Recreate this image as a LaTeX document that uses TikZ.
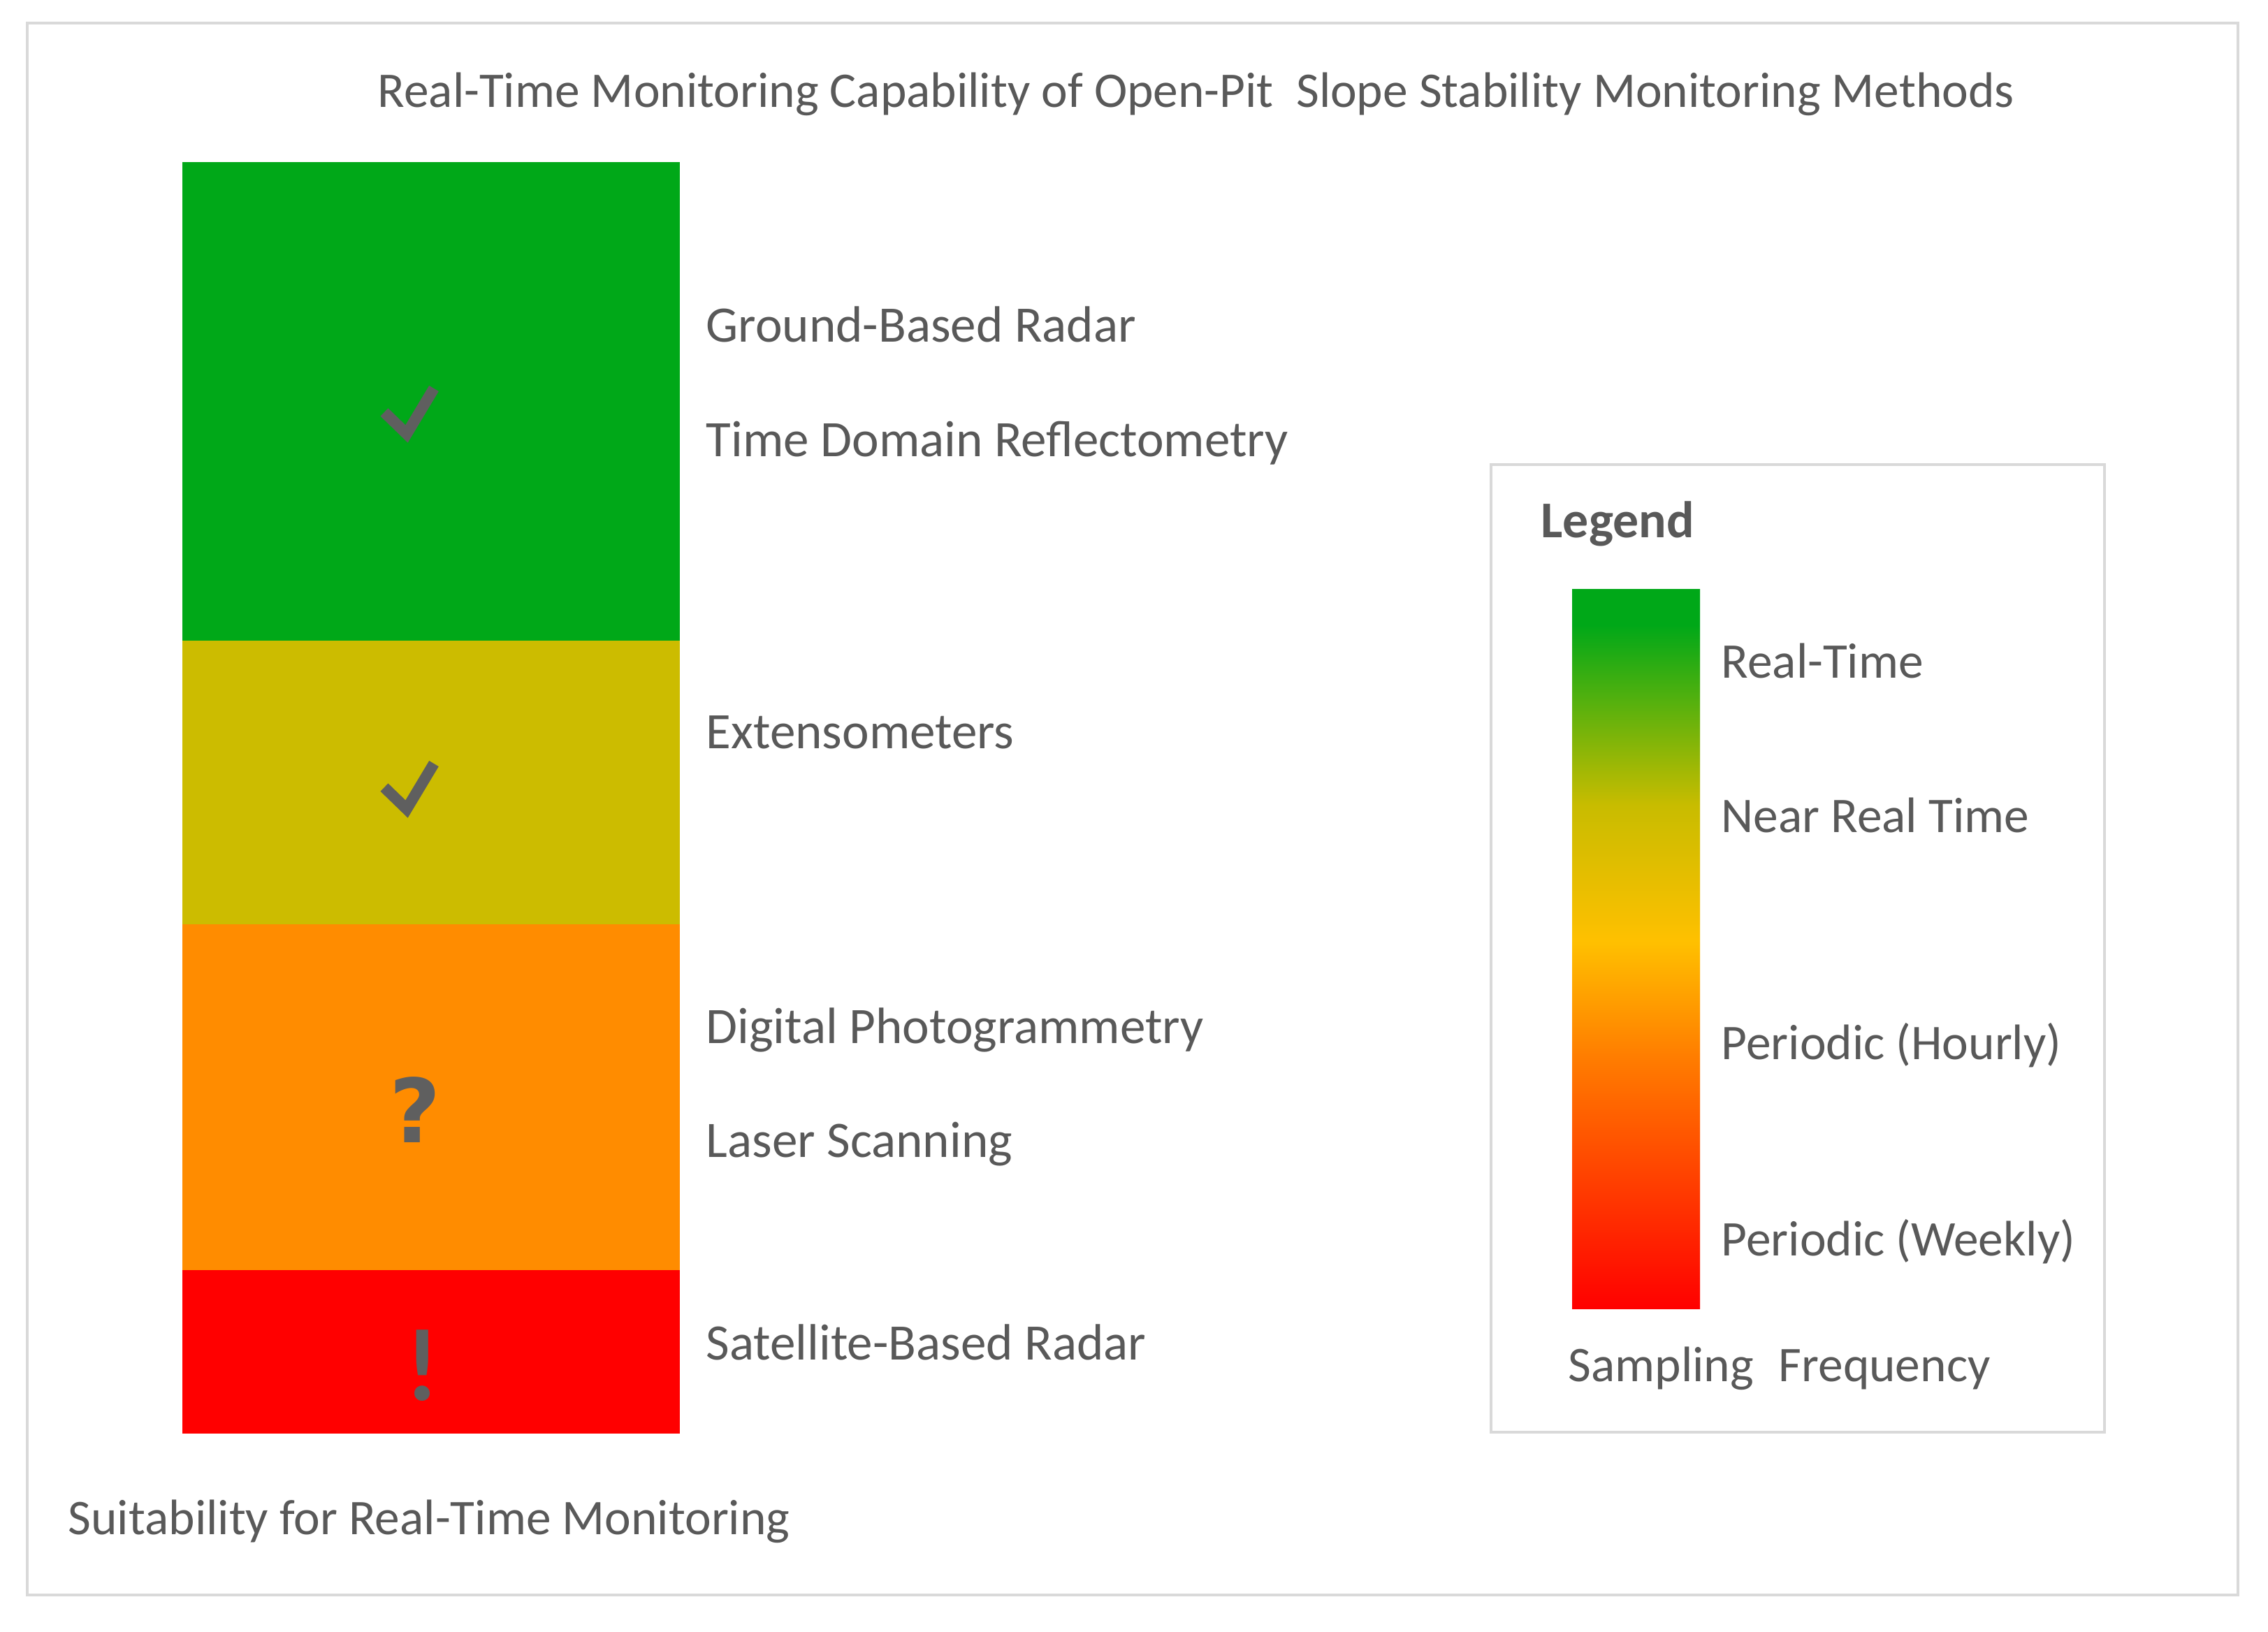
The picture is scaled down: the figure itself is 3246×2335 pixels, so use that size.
\documentclass[tikz,border=0pt]{standalone}
\usepackage{fontspec}
\setmainfont{Carlito}
\newfontfamily\symfont{DejaVu Sans}
\definecolor{tgray}{HTML}{595959}
\definecolor{symgray}{HTML}{5F5F5F}
\definecolor{framegray}{HTML}{D9D9D9}
\definecolor{cgreen}{RGB}{0,168,24}
\definecolor{cyellow}{RGB}{204,188,0}
\definecolor{corange}{RGB}{255,140,0}
\definecolor{cred}{RGB}{255,0,0}
\definecolor{lgGreen}{RGB}{0,168,24}
\definecolor{lgOlive}{RGB}{200,188,0}
\definecolor{lgAmber}{RGB}{255,192,0}
\definecolor{lgOrange}{RGB}{255,125,0}
\definecolor{lgRed}{RGB}{255,0,0}
\pgfdeclareverticalshading{legendgrad}{100bp}{color(0bp)=(lgRed); color(25bp)=(lgRed); color(42.5bp)=(lgOrange); color(50.5bp)=(lgAmber); color(60bp)=(lgOlive); color(72.5bp)=(lgGreen); color(75bp)=(lgGreen); color(100bp)=(lgGreen)}
\begin{document}
\begin{tikzpicture}[x=0.01cm,y=-0.01cm,
  txt/.style={inner sep=0pt,anchor=base west,text=tgray,font=\fontsize{20.3}{24}\selectfont},
  mtxt/.style={inner sep=0pt,anchor=base west,text=tgray,font=\fontsize{20.8}{24}\selectfont},
  ttl/.style={inner sep=0pt,anchor=base west,text=tgray,font=\fontsize{20.3}{24}\selectfont},
  legtitle/.style={inner sep=0pt,anchor=base west,text=tgray,font=\fontsize{21}{24}\selectfont\bfseries},
  symb/.style={inner sep=0pt,anchor=center,text=symgray,font=\symfont\fontsize{36}{40}\selectfont\bfseries},
  symbb/.style={inner sep=0pt,anchor=center,text=symgray,font=\fontsize{42}{44}\selectfont\bfseries},
  checkmark/.style={draw=symgray,line width=4.5pt,miter limit=10},
  framebox/.style={draw=framegray,line width=1.1pt}]
\useasboundingbox (0,0) rectangle (3246,2335);
\fill[white] (0,0) rectangle (3246,2335);
% outer frame
\draw[framebox] (39,33) rectangle (3203,2283);
% title
\node[ttl] (title) at (540,153) {Real-Time Monitoring Capability of Open-Pit~ Slope Stability Monitoring Methods};
% bars
\fill[cgreen] (261,232) rectangle (973,918);
\fill[cyellow] (261,917) rectangle (973,1324);
\fill[corange] (261,1323) rectangle (973,1819);
\fill[cred] (261,1818) rectangle (973,2052);
% symbols
\draw[checkmark] (550,590) -- (582,621) -- (621,556);
\draw[checkmark] (550,1127) -- (582,1158) -- (621,1093);
\node[symb] (qmark) at (594,1588) {?};
\node[symbb] (emark) at (605,1955) {!};
% method labels
\node[mtxt] (gbr) at (1010,489) {Ground-Based Radar};
\node[mtxt] (tdr) at (1010,653) {Time Domain Reflectometry};
\node[mtxt] (ext) at (1010,1071) {Extensometers};
\node[mtxt] (dph) at (1010,1493) {Digital Photogrammetry};
\node[mtxt] (lsc) at (1010,1656) {Laser Scanning};
\node[mtxt] (sbr) at (1010,1946) {Satellite-Based Radar};
\node[txt] (suit) at (97,2196) {Suitability for Real-Time Monitoring};
% legend
\draw[framebox] (2134,665) rectangle (3012,2050);
\node[legtitle] (leg) at (2205,769) {Legend};
\shade[shading=legendgrad] (2250,843) rectangle (2433,1873);
\node[txt] (lrt) at (2463,970) {Real-Time};
\node[txt] (lnrt) at (2463,1191) {Near Real Time};
\node[txt] (lph) at (2463,1516) {Periodic (Hourly)};
\node[txt] (lpw) at (2463,1797) {Periodic (Weekly)};
\node[txt] (lsf) at (2244,1977) {Sampling\hspace{0.5em}Frequency};
\end{tikzpicture}
\end{document}
